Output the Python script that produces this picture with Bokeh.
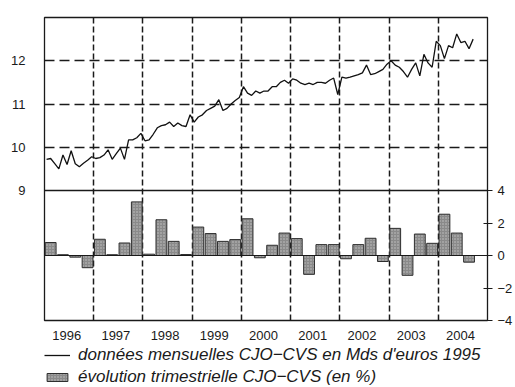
from bokeh.plotting import figure
from bokeh.layouts import column
from bokeh.models import (Range1d, LinearAxis, FixedTicker, Span, Legend,
                          LegendItem)
from bokeh.embed import file_html
from bokeh.resources import INLINE

# ---- data -------------------------------------------------------------
years = [1996, 1997, 1998, 1999, 2000, 2001, 2002, 2003, 2004]

# monthly values, CJO-CVS, billions of 1995 euros (Jan 1996 - Sep 2004)
monthly_1996 = [9.72, 9.74, 9.62, 9.50, 9.82, 9.60, 9.92, 9.62, 9.55, 9.63, 9.70, 9.78]
monthly_1997 = [9.74, 9.76, 9.82, 9.94, 9.72, 9.85, 9.98, 9.72, 10.17, 10.17, 10.22, 10.32]
monthly_1998 = [10.15, 10.17, 10.30, 10.45, 10.50, 10.52, 10.58, 10.48, 10.56, 10.50, 10.48, 10.75]
monthly_1999 = [10.58, 10.70, 10.75, 10.85, 10.90, 10.95, 11.10, 10.85, 10.90, 11.00, 11.08, 11.15]
monthly_2000 = [11.40, 11.25, 11.20, 11.30, 11.25, 11.30, 11.30, 11.40, 11.40, 11.50, 11.55, 11.48]
monthly_2001 = [11.58, 11.55, 11.48, 11.45, 11.48, 11.45, 11.50, 11.50, 11.48, 11.55, 11.60, 11.22]
monthly_2002 = [11.62, 11.60, 11.62, 11.65, 11.68, 11.72, 11.90, 11.68, 11.70, 11.75, 11.80, 11.92]
monthly_2003 = [12.00, 11.90, 11.85, 11.75, 11.62, 11.80, 11.95, 11.65, 12.15, 11.95, 11.85, 12.45]
monthly_2004 = [12.35, 12.05, 12.35, 12.30, 12.62, 12.42, 12.45, 12.28, 12.50]

# quarterly change, CJO-CVS, in % (1996 Q1 - 2004 Q3)
quarterly_change = [
    0.80, 0.05, -0.10, -0.75,
    1.00, 0.05, 0.77, 3.30,
    0.08, 2.20, 0.87, 0.06,
    1.75, 1.35, 0.87, 0.98,
    2.26, -0.14, 0.63, 1.38,
    1.04, -1.16, 0.67, 0.67,
    -0.20, 0.67, 1.06, -0.37,
    1.67, -1.22, 1.32, 0.75,
    2.54, 1.38, -0.41,
]

line_ticks = [9, 10, 11, 12]
line_grid = [10, 11, 12]
bar_ticks = [-4, -2, 0, 2, 4]
bar_tick_labels = {-4: "\u22124", -2: "\u22122", 0: "0", 2: "2", 4: "4"}

label_line = "données mensuelles CJO\u2212CVS en Mds d'euros 1995"
label_bars = "évolution trimestrielle CJO\u2212CVS (en %)"

monthly = (monthly_1996 + monthly_1997 + monthly_1998 + monthly_1999 +
           monthly_2000 + monthly_2001 + monthly_2002 + monthly_2003 +
           monthly_2004)
month_x = [years[0] + (i + 0.5) / 12 for i in range(len(monthly))]
quarter_x = [years[0] + (i + 0.5) / 4 for i in range(len(quarterly_change))]

# ---- two stacked panels sharing one frame ------------------------------
LINE_LO, LINE_HI = 9, 13
BAR_LO, BAR_HI = -4, 4
TOP_SHARE = 173 / 303          # share of the frame height used by the line panel
line_bottom = LINE_HI - (LINE_HI - LINE_LO) / TOP_SHARE
bar_top = BAR_LO + (BAR_HI - BAR_LO) / (1 - TOP_SHARE)

FONT = "Liberation Sans"
INK = "#1a1a1a"
LINE_COLOR = "#111111"
BAR_FILL = "#8a8a8a"
BAR_EDGE = "#2e2e2e"
BAR_HATCH = "#c4c4c4"
bar_style = dict(fill_color=BAR_FILL, line_color=BAR_EDGE, line_width=1,
                 hatch_pattern="dot", hatch_color=BAR_HATCH, hatch_scale=3,
                 hatch_weight=1)

p = figure(width=515, height=344,
           x_range=Range1d(years[0], years[-1] + 1),
           y_range=Range1d(line_bottom, LINE_HI),
           x_axis_location=None,
           output_backend="svg", toolbar_location=None,
           min_border_left=44, min_border_top=17, min_border_right=27,
           min_border_bottom=24)
p.extra_y_ranges = {"bars": Range1d(BAR_LO, bar_top)}
p.extra_x_ranges = {"years": Range1d(years[0] - 0.45, years[-1] + 0.55)}

p.background_fill_color = "white"
p.border_fill_color = "white"
p.outline_line_color = INK
p.outline_line_width = 1.3

# left axis (monthly level)
ly = p.yaxis[0]
ly.ticker = FixedTicker(ticks=line_ticks)
ly.major_tick_in = 0
ly.major_tick_out = 0
ly.minor_tick_line_color = None
ly.axis_line_color = None
ly.major_label_standoff = 19
ly.major_label_text_font = FONT
ly.major_label_text_font_size = "13px"
ly.major_label_text_color = INK

# right axis (quarterly change)
ry = LinearAxis(y_range_name="bars", ticker=FixedTicker(ticks=bar_ticks),
                major_label_overrides=bar_tick_labels)
ry.major_tick_in = 4
ry.major_tick_out = 5
ry.major_tick_line_color = INK
ry.minor_tick_line_color = None
ry.axis_line_color = None
ry.major_label_standoff = 5
ry.major_label_text_font = FONT
ry.major_label_text_font_size = "13px"
ry.major_label_text_color = INK
p.add_layout(ry, "right")

# year labels below
bx = LinearAxis(x_range_name="years", ticker=FixedTicker(ticks=years))
bx.major_tick_in = 0
bx.major_tick_out = 0
bx.minor_tick_line_color = None
bx.axis_line_color = None
bx.major_label_standoff = 10
bx.major_label_text_font = FONT
bx.major_label_text_font_size = "13px"
bx.major_label_text_color = INK
p.add_layout(bx, "below")

# dashed grid: year boundaries and level lines
p.xgrid.ticker = FixedTicker(ticks=years[1:])
p.xgrid.grid_line_color = INK
p.xgrid.grid_line_width = 1.5
p.xgrid.grid_line_dash = "6 3"
p.ygrid.ticker = FixedTicker(ticks=line_grid)
p.ygrid.grid_line_color = INK
p.ygrid.grid_line_width = 1.5
p.ygrid.grid_line_dash = "10 5"

# divider between the panels
p.add_layout(Span(location=LINE_LO, dimension="width", line_color=INK,
                  line_width=1.3))

# quarterly bars and their baseline
p.vbar(x=quarter_x, top=quarterly_change, bottom=0, width=0.22,
       y_range_name="bars", **bar_style)
p.hspan(y=[0], y_range_name="bars", line_color=INK, line_width=1.2)

# monthly line
p.line(month_x, monthly, line_color=LINE_COLOR, line_width=1.3)

# ---- legend strip under the chart ---------------------------------------
# The strip's ranges lie far from the data, so the series drawn here stay
# out of view and only lend their styling to the legend swatches.
q = figure(width=515, height=43, x_range=Range1d(0, 1),
           y_range=Range1d(100, 101),
           output_backend="svg", toolbar_location=None,
           min_border=0, min_border_left=0, min_border_right=0,
           x_axis_location=None, y_axis_location=None)
q.outline_line_color = None
q.xgrid.visible = False
q.ygrid.visible = False
q.background_fill_color = "white"
q.border_fill_color = "white"

key_line = q.line(month_x, monthly, line_color=LINE_COLOR, line_width=1.3)
key_bar = q.vbar(x=quarter_x, top=quarterly_change, bottom=0, width=0.22,
                 **bar_style)

legend = Legend(items=[LegendItem(label=label_line, renderers=[key_line]),
                       LegendItem(label=label_bars, renderers=[key_bar])],
                location=(0, 0), orientation="vertical",
                glyph_width=26, glyph_height=10, label_standoff=8,
                label_height=18, spacing=2, padding=0, margin=0,
                border_line_color=None, background_fill_alpha=0,
                label_text_font=FONT, label_text_font_style="italic",
                label_text_font_size="17px", label_text_color=INK)
q.add_layout(legend)

layout = column(p, q, spacing=0)
open("out.html", "w").write(file_html(layout, INLINE))
